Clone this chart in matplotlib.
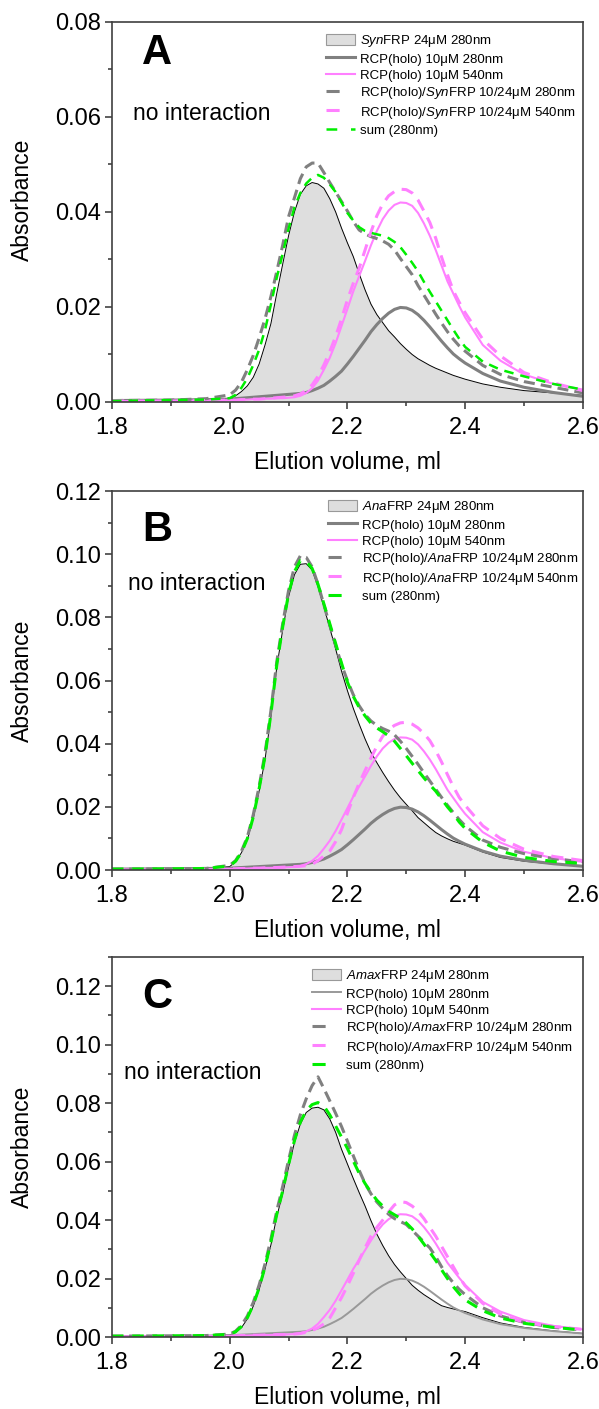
import numpy as np
import matplotlib
matplotlib.use("Agg")
import matplotlib.pyplot as plt
from matplotlib.ticker import MultipleLocator, FormatStrFormatter
from matplotlib.patches import Patch
from matplotlib.lines import Line2D

plt.rcParams['font.family'] = ['Liberation Sans', 'DejaVu Sans']
plt.rcParams['mathtext.fontset'] = 'custom'
plt.rcParams['mathtext.rm'] = 'Liberation Sans'
plt.rcParams['mathtext.it'] = 'Liberation Sans:italic'

# elution volume (ml) where the traces were read
vol = [1.80, 1.90, 1.96,
       2.00, 2.01, 2.02, 2.03, 2.04, 2.05, 2.06, 2.07, 2.08, 2.09,
       2.10, 2.11, 2.12, 2.13, 2.14, 2.15, 2.16, 2.17, 2.18, 2.19,
       2.20, 2.21, 2.22, 2.23, 2.24, 2.25, 2.26, 2.27, 2.28, 2.29,
       2.30, 2.31, 2.32, 2.33, 2.34, 2.35, 2.36, 2.37, 2.38, 2.39,
       2.40, 2.43, 2.46, 2.50, 2.55, 2.60]

# RCP(holo) alone, same run in all panels
rcp_280 = [0.0003, 0.0004, 0.0005,
           0.0006, 0.0007, 0.0008, 0.0009, 0.0010, 0.0011, 0.0012, 0.0013, 0.0014, 0.0015,
           0.0016, 0.0017, 0.0018, 0.0020, 0.0024, 0.0029, 0.0035, 0.0044, 0.0054, 0.0065,
           0.0080, 0.0096, 0.0113, 0.0130, 0.0148, 0.0163, 0.0176, 0.0187, 0.0195, 0.0199,
           0.0198, 0.0193, 0.0184, 0.0172, 0.0158, 0.0143, 0.0128, 0.0114, 0.0101, 0.0091,
           0.0082, 0.0060, 0.0044, 0.0031, 0.0020, 0.0012]
rcp_540 = [0.0002, 0.0002, 0.0003,
           0.0004, 0.0004, 0.0005, 0.0005, 0.0006, 0.0006, 0.0007, 0.0007, 0.0008, 0.0008,
           0.0009, 0.0010, 0.0013, 0.0019, 0.0029, 0.0045, 0.0068, 0.0093, 0.0124, 0.0160,
           0.0196, 0.0233, 0.0265, 0.0297, 0.0330, 0.0360, 0.0385, 0.0403, 0.0415, 0.0420,
           0.0419, 0.0413, 0.0398, 0.0376, 0.0350, 0.0320, 0.0287, 0.0254, 0.0228, 0.0202,
           0.0178, 0.0120, 0.0087, 0.0058, 0.0038, 0.0026]

# A - SynFRP
syn_frp = [0.0002, 0.0003, 0.0004,
           0.0007, 0.0013, 0.0022, 0.0034, 0.0052, 0.0080, 0.0120, 0.0165, 0.0229, 0.0290,
           0.0350, 0.0400, 0.0437, 0.0455, 0.0462, 0.0459, 0.0450, 0.0428, 0.0400, 0.0366,
           0.0335, 0.0306, 0.0270, 0.0236, 0.0206, 0.0184, 0.0167, 0.0150, 0.0137, 0.0123,
           0.0111, 0.0100, 0.0091, 0.0084, 0.0077, 0.0071, 0.0066, 0.0061, 0.0056, 0.0052,
           0.0048, 0.0038, 0.0031, 0.0024, 0.0019, 0.0014]
syn_mix_280 = [0.0003, 0.0004, 0.0007,
               0.0015, 0.0025, 0.0042, 0.0068, 0.0098, 0.0135, 0.0175, 0.0222, 0.0275, 0.0330,
               0.0390, 0.0430, 0.0470, 0.0495, 0.0503, 0.0503, 0.0483, 0.0462, 0.0442, 0.0422,
               0.0402, 0.0380, 0.0362, 0.0354, 0.0348, 0.0344, 0.0339, 0.0332, 0.0320, 0.0302,
               0.0285, 0.0268, 0.0245, 0.0225, 0.0205, 0.0185, 0.0166, 0.0148, 0.0132, 0.0118,
               0.0107, 0.0077, 0.0058, 0.0043, 0.0031, 0.0019]
syn_mix_540 = [0.0002, 0.0002, 0.0003,
               0.0004, 0.0004, 0.0005, 0.0005, 0.0006, 0.0006, 0.0007, 0.0008, 0.0009, 0.0010,
               0.0011, 0.0013, 0.0017, 0.0024, 0.0036, 0.0054, 0.0078, 0.0106, 0.0138, 0.0175,
               0.0215, 0.0250, 0.0282, 0.0320, 0.0358, 0.0392, 0.0417, 0.0434, 0.0443, 0.0448,
               0.0447, 0.0440, 0.0425, 0.0402, 0.0378, 0.0345, 0.0305, 0.0268, 0.0234, 0.0210,
               0.0188, 0.0132, 0.0097, 0.0062, 0.0040, 0.0024]
syn_sum = [0.0002, 0.0004, 0.0005,
           0.0008, 0.0015, 0.0030, 0.0050, 0.0078, 0.0110, 0.0152, 0.0205, 0.0262, 0.0312,
           0.0365, 0.0410, 0.0440, 0.0460, 0.0472, 0.0478, 0.0472, 0.0458, 0.0442, 0.0420,
           0.0398, 0.0382, 0.0368, 0.0360, 0.0356, 0.0353, 0.0350, 0.0345, 0.0337, 0.0326,
           0.0310, 0.0293, 0.0275, 0.0253, 0.0232, 0.0212, 0.0192, 0.0172, 0.0152, 0.0133,
           0.0116, 0.0085, 0.0068, 0.0054, 0.0038, 0.0026]

# B - AnaFRP
ana_frp = [0.0003, 0.0004, 0.0005,
           0.0011, 0.0027, 0.0055, 0.0097, 0.0163, 0.0250, 0.0350, 0.0485, 0.0643, 0.0760,
           0.0865, 0.0935, 0.0968, 0.0970, 0.0950, 0.0897, 0.0833, 0.0766, 0.0700, 0.0630,
           0.0568, 0.0512, 0.0462, 0.0415, 0.0373, 0.0340, 0.0309, 0.0280, 0.0253, 0.0229,
           0.0208, 0.0188, 0.0166, 0.0150, 0.0134, 0.0119, 0.0108, 0.0099, 0.0091, 0.0085,
           0.0079, 0.0057, 0.0040, 0.0028, 0.0019, 0.0013]
ana_mix_280 = [0.0003, 0.0004, 0.0005,
               0.0015, 0.0030, 0.0060, 0.0105, 0.0175, 0.0265, 0.0370, 0.0505, 0.0660, 0.0780,
               0.0885, 0.0960, 0.0995, 0.0990, 0.0960, 0.0905, 0.0840, 0.0775, 0.0712, 0.0650,
               0.0600, 0.0555, 0.0520, 0.0492, 0.0472, 0.0458, 0.0448, 0.0440, 0.0428, 0.0408,
               0.0385, 0.0360, 0.0335, 0.0308, 0.0282, 0.0256, 0.0230, 0.0205, 0.0182, 0.0160,
               0.0140, 0.0095, 0.0072, 0.0052, 0.0036, 0.0026]
ana_mix_540 = [0.0002, 0.0002, 0.0003,
               0.0004, 0.0004, 0.0005, 0.0005, 0.0006, 0.0006, 0.0007, 0.0008, 0.0008, 0.0009,
               0.0010, 0.0011, 0.0012, 0.0014, 0.0018, 0.0030, 0.0045, 0.0060, 0.0090, 0.0128,
               0.0180, 0.0230, 0.0275, 0.0315, 0.0355, 0.0392, 0.0424, 0.0445, 0.0458, 0.0466,
               0.0468, 0.0462, 0.0450, 0.0432, 0.0410, 0.0378, 0.0342, 0.0302, 0.0264, 0.0230,
               0.0205, 0.0140, 0.0100, 0.0066, 0.0043, 0.0030]
ana_sum = [0.0003, 0.0004, 0.0005,
           0.0013, 0.0028, 0.0056, 0.0100, 0.0168, 0.0258, 0.0360, 0.0495, 0.0650, 0.0770,
           0.0875, 0.0945, 0.0980, 0.0978, 0.0955, 0.0905, 0.0843, 0.0780, 0.0717, 0.0655,
           0.0595, 0.0550, 0.0515, 0.0488, 0.0465, 0.0450, 0.0438, 0.0425, 0.0408, 0.0385,
           0.0362, 0.0338, 0.0315, 0.0292, 0.0270, 0.0250, 0.0225, 0.0200, 0.0178, 0.0152,
           0.0132, 0.0088, 0.0060, 0.0040, 0.0027, 0.0021]

# C - AmaxFRP
amax_frp = [0.0003, 0.0004, 0.0005,
            0.0007, 0.0015, 0.0032, 0.0062, 0.0105, 0.0162, 0.0232, 0.0315, 0.0412, 0.0490,
            0.0580, 0.0665, 0.0728, 0.0768, 0.0783, 0.0786, 0.0777, 0.0746, 0.0700, 0.0642,
            0.0592, 0.0542, 0.0494, 0.0448, 0.0398, 0.0352, 0.0313, 0.0278, 0.0248, 0.0223,
            0.0200, 0.0177, 0.0160, 0.0145, 0.0132, 0.0119, 0.0107, 0.0101, 0.0096, 0.0091,
            0.0087, 0.0066, 0.0048, 0.0033, 0.0021, 0.0012]
amax_mix_280 = [0.0003, 0.0004, 0.0005,
                0.0010, 0.0020, 0.0040, 0.0072, 0.0118, 0.0178, 0.0250, 0.0335, 0.0432, 0.0515,
                0.0605, 0.0690, 0.0760, 0.0815, 0.0860, 0.0890, 0.0850, 0.0808, 0.0765, 0.0720,
                0.0670, 0.0620, 0.0570, 0.0525, 0.0490, 0.0462, 0.0440, 0.0420, 0.0405, 0.0395,
                0.0385, 0.0365, 0.0345, 0.0325, 0.0305, 0.0275, 0.0240, 0.0210, 0.0185, 0.0163,
                0.0145, 0.0100, 0.0072, 0.0050, 0.0033, 0.0024]
amax_mix_540 = [0.0002, 0.0002, 0.0003,
                0.0004, 0.0004, 0.0005, 0.0005, 0.0006, 0.0006, 0.0007, 0.0007, 0.0008, 0.0008,
                0.0009, 0.0010, 0.0012, 0.0016, 0.0022, 0.0032, 0.0045, 0.0065, 0.0100, 0.0135,
                0.0175, 0.0218, 0.0263, 0.0305, 0.0345, 0.0375, 0.0400, 0.0428, 0.0452, 0.0463,
                0.0460, 0.0448, 0.0430, 0.0405, 0.0375, 0.0345, 0.0310, 0.0275, 0.0240, 0.0205,
                0.0175, 0.0115, 0.0078, 0.0050, 0.0036, 0.0026]
amax_sum = [0.0003, 0.0004, 0.0005,
            0.0009, 0.0018, 0.0036, 0.0066, 0.0110, 0.0168, 0.0240, 0.0325, 0.0420, 0.0500,
            0.0590, 0.0672, 0.0735, 0.0775, 0.0795, 0.0802, 0.0790, 0.0760, 0.0722, 0.0684,
            0.0645, 0.0602, 0.0560, 0.0525, 0.0495, 0.0468, 0.0448, 0.0430, 0.0418, 0.0406,
            0.0390, 0.0370, 0.0345, 0.0318, 0.0290, 0.0262, 0.0230, 0.0200, 0.0172, 0.0148,
            0.0127, 0.0090, 0.0065, 0.0047, 0.0033, 0.0024]

GRAY = '#808080'
PINK = '#ff80ff'
GREEN = '#00ee00'
FILL = '#dedede'

fig = plt.figure(figsize=(5.99, 14.09), dpi=100)

panels = [
    dict(letter='A', name='Syn', frp=syn_frp, mix280=syn_mix_280, mix540=syn_mix_540,
         sm=syn_sum, ymax=0.08, rect=[0.187, 0.7147, 0.786, 0.2697],
         rcp_c=GRAY, rcp_lw=2.2, sum_lw=1.8, letter_y=0.918, txt=(0.045, 0.76),
         leg=(0.454, 0.971), ylab_y=0.533),
    dict(letter='B', name='Ana', frp=ana_frp, mix280=ana_mix_280, mix540=ana_mix_540,
         sm=ana_sum, ymax=0.12, rect=[0.187, 0.3825, 0.786, 0.2690],
         rcp_c=GRAY, rcp_lw=2.2, sum_lw=2.2, letter_y=0.897, txt=(0.034, 0.757),
         leg=(0.459, 0.979), ylab_y=0.5),
    dict(letter='C', name='Amax', frp=amax_frp, mix280=amax_mix_280, mix540=amax_mix_540,
         sm=amax_sum, ymax=0.13, rect=[0.187, 0.0511, 0.786, 0.2697],
         rcp_c='#999999', rcp_lw=1.4, sum_lw=2.2, letter_y=0.895, txt=(0.025, 0.697),
         leg=(0.425, 0.971), ylab_y=0.5),
]

for p in panels:
    ax = fig.add_axes(p['rect'])
    ax.fill_between(vol, 0, p['frp'], color=FILL, lw=0)
    ax.plot(vol, p['frp'], color='black', lw=0.7)
    ax.plot(vol, rcp_280, color=p['rcp_c'], lw=p['rcp_lw'])
    ax.plot(vol, rcp_540, color=PINK, lw=1.5)
    ax.plot(vol, p['mix280'], color=GRAY, lw=2.2, dashes=(3.6, 2.0))
    ax.plot(vol, p['mix540'], color=PINK, lw=2.2, dashes=(4.0, 2.6))
    ax.plot(vol, p['sm'], color=GREEN, lw=p['sum_lw'], dashes=(3.8, 2.8))

    ax.set_xlim(1.8, 2.6)
    ax.set_ylim(0, p['ymax'])
    ax.xaxis.set_major_locator(MultipleLocator(0.2))
    ax.xaxis.set_minor_locator(MultipleLocator(0.1))
    ax.yaxis.set_major_locator(MultipleLocator(0.02))
    ax.yaxis.set_minor_locator(MultipleLocator(0.01))
    ax.xaxis.set_major_formatter(FormatStrFormatter('%.1f'))
    ax.yaxis.set_major_formatter(FormatStrFormatter('%.2f'))
    ax.tick_params(which='major', direction='out', length=5, width=1.1,
                   labelsize=17, color='#333333', pad=3)
    ax.tick_params(axis='x', which='major', pad=5.5)
    ax.tick_params(which='minor', direction='out', length=3, width=1.1, color='#333333')
    for s in ax.spines.values():
        s.set_color('#404040')
        s.set_linewidth(1.2)
    ax.set_xlabel('Elution volume, ml', fontsize=16.5, labelpad=9)
    ax.set_ylabel('Absorbance', fontsize=16.5)
    ax.yaxis.set_label_coords(-0.166, p['ylab_y'])

    ax.text(0.096, p['letter_y'], p['letter'], transform=ax.transAxes, fontsize=30,
            fontweight='bold', ha='center', va='center')
    ax.text(p['txt'][0], p['txt'][1], 'no interaction', transform=ax.transAxes,
            fontsize=16.5, ha='left', va='center')

    nm = r'$\mathit{' + p['name'] + '}$'
    handles = [
        Patch(facecolor=FILL, edgecolor='#999999', lw=0.8),
        Line2D([], [], color=p['rcp_c'], lw=p['rcp_lw']),
        Line2D([], [], color=PINK, lw=1.5),
        Line2D([], [], color=GRAY, lw=2.2, dashes=(4.3, 6)),
        Line2D([], [], color=PINK, lw=2.2, dashes=(4.3, 6)),
        Line2D([], [], color=GREEN, lw=p['sum_lw'], dashes=(4.3, 5.5)),
    ]
    labels = [
        nm + 'FRP 24μM 280nm',
        'RCP(holo) 10μM 280nm',
        'RCP(holo) 10μM 540nm',
        'RCP(holo)/' + nm + 'FRP 10/24μM 280nm',
        'RCP(holo)/' + nm + 'FRP 10/24μM 540nm',
        'sum (280nm)',
    ]
    ax.legend(handles, labels, loc='upper left', bbox_to_anchor=p['leg'],
              frameon=False, fontsize=9.5, borderaxespad=0, borderpad=0,
              handlelength=2.2, handleheight=1.0, handletextpad=0.4,
              labelspacing=0.24)

fig.savefig('out.png', dpi=100)
